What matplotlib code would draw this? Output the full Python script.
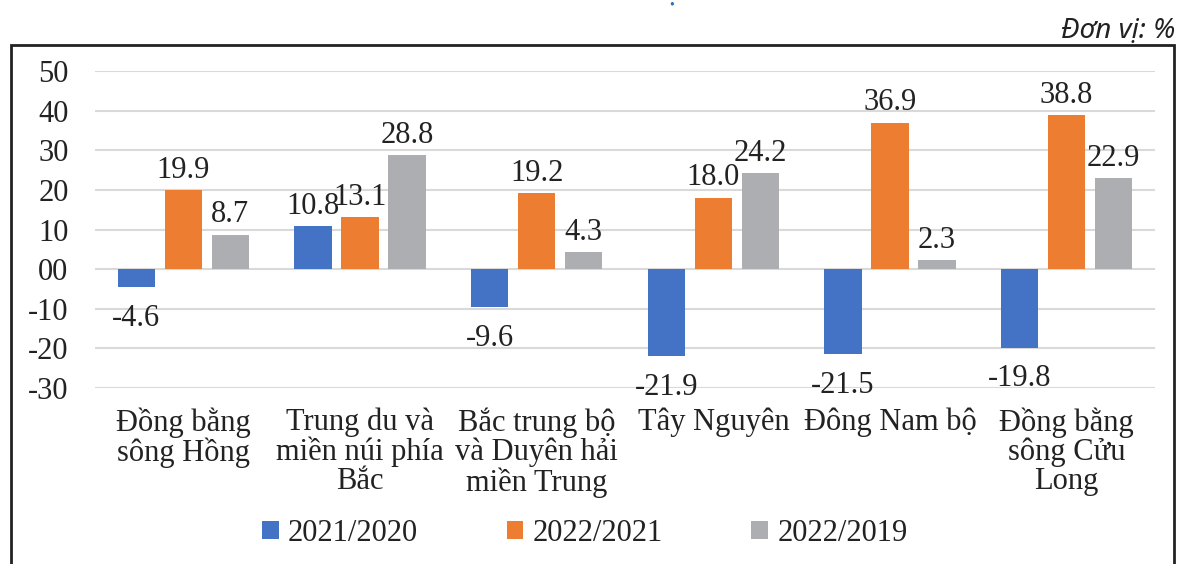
import matplotlib
matplotlib.use("Agg")
import matplotlib.pyplot as plt
from matplotlib.patches import Rectangle
import numpy as np

categories = ["Đồng bằng\nsông Hồng", "Trung du và\nmiền núi phía\nBắc",
              "Bắc trung bộ\nvà Duyên hải\nmiền Trung", "Tây Nguyên",
              "Đông Nam bộ", "Đồng bằng\nsông Cửu\nLong"]
series_names = ["2021/2020", "2022/2021", "2022/2019"]
s2021_2020 = [-4.6, 10.8, -9.6, -21.9, -21.5, -19.8]
s2022_2021 = [19.9, 13.1, 19.2, 18.0, 36.9, 38.8]
s2022_2019 = [8.7, 28.8, 4.3, 24.2, 2.3, 22.9]
yticks = [50, 40, 30, 20, 10, 0, -10, -20, -30]
ytick_labels = ["50", "40", "30", "20", "10", "00", "-10", "-20", "-30"]

colors = ["#4472C4", "#ED7D31", "#ADAEB1"]
serif = ["Liberation Serif", "DejaVu Serif"]
plt.rcParams["font.family"] = serif
FS = 22
TXT = "#222222"

fig = plt.figure(figsize=(11.81, 5.64), dpi=100)
ax = fig.add_axes([0.0804, 0.312, 0.8976, 0.562])

x = np.arange(len(categories))
offs = [-0.266, 0.0, 0.266]
w = 0.21
for vals, off, c, name in zip([s2021_2020, s2022_2021, s2022_2019], offs, colors, series_names):
    bars = ax.bar(x + off, vals, width=w, color=c, label=name, zorder=3)
    for b, v in zip(bars, vals):
        if v >= 0:
            ax.annotate(f"{v:.1f}", (b.get_x() + b.get_width() / 2, v),
                        xytext=(0, 4), textcoords="offset points",
                        ha="center", va="bottom", fontsize=FS, color=TXT)
        else:
            ax.annotate(f"{v:.1f}", (b.get_x() + b.get_width() / 2, v),
                        xytext=(0, -12), textcoords="offset points",
                        ha="center", va="top", fontsize=FS, color=TXT)

ax.set_ylim(-30, 50)
ax.set_xlim(-0.5, len(categories) - 0.5)
ax.set_yticks(yticks)
ax.set_yticklabels(ytick_labels, fontsize=FS, color=TXT)
ax.set_xticks(x)
ax.set_xticklabels(categories, fontsize=FS, color=TXT, linespacing=1.0)
ax.tick_params(axis="both", length=0)
ax.tick_params(axis="y", pad=19)
ax.tick_params(axis="x", pad=14)
for s in ax.spines.values():
    s.set_visible(False)
ax.yaxis.grid(True, color="#D9D9D9", linewidth=1.5, zorder=0)
ax.set_axisbelow(True)

leg = ax.legend(loc="upper center", bbox_to_anchor=(0.462, -0.325), ncol=3,
                frameon=False, fontsize=FS, handlelength=0.55, handleheight=0.55,
                handletextpad=0.3, columnspacing=2.9)
for t in leg.get_texts():
    t.set_color(TXT)

# outer frame
fig.patches.append(Rectangle((11 / 1181, -0.05), (1174 - 11) / 1181, 1.05 - 45 / 564,
                             transform=fig.transFigure, fill=False,
                             edgecolor=TXT, linewidth=2.0))
fig.text(0.995, 0.945, "Đơn vị: %", ha="right", va="center", fontsize=20,
         style="italic", family=["Noto Sans", "DejaVu Sans"], color=TXT)
fig.text(672 / 1181, 1 - 5 / 564, "•", ha="center", va="center", fontsize=10,
         color="#2A6EBB")

fig.savefig("out.png", dpi=100)
